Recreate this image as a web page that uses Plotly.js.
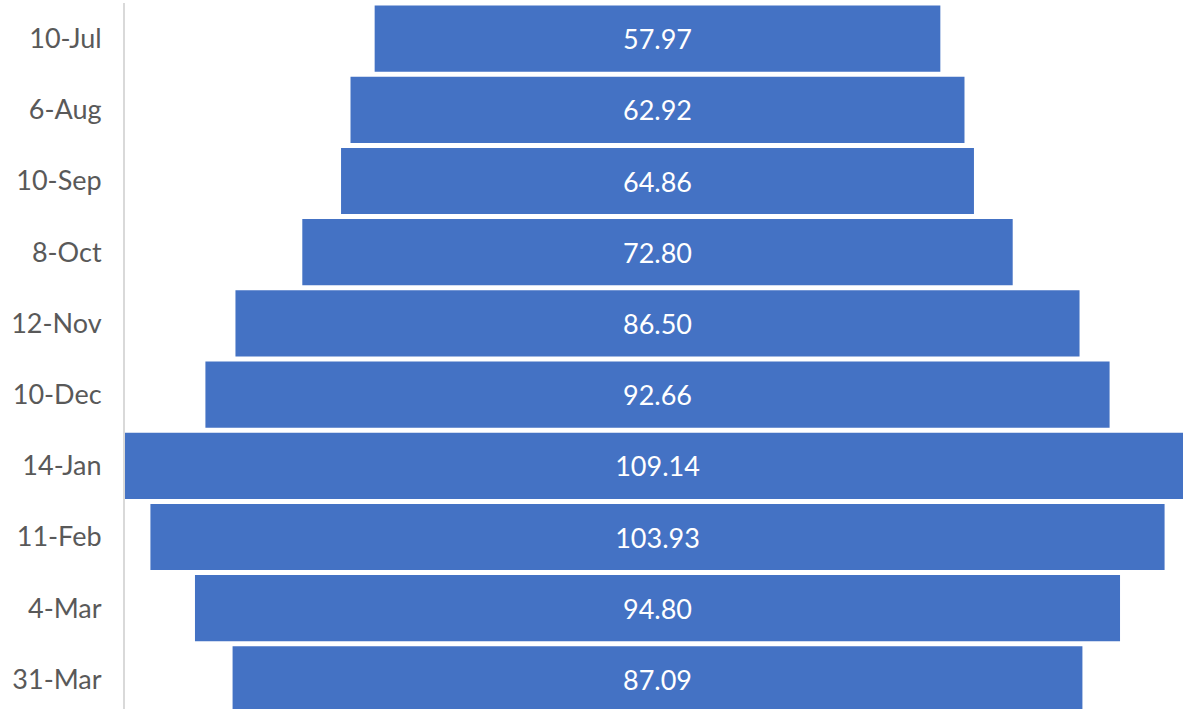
<!DOCTYPE html>
<html><head><meta charset="utf-8">
<script src="https://cdn.plot.ly/plotly-3.0.1.min.js"></script>
<style>html,body{margin:0;padding:0;overflow:hidden;background:#fff}</style>
</head><body><div id="chart"></div>
<script>
const categories = ["10-Jul","6-Aug","10-Sep","8-Oct","12-Nov","10-Dec","14-Jan","11-Feb","4-Mar","31-Mar"];
const values = [57.97,62.92,64.86,72.80,86.50,92.66,109.14,103.93,94.80,87.09];
const maxV = Math.max(...values);
Plotly.newPlot('chart', [{
  type: 'funnel',
  y: categories,
  x: values,
  orientation: 'h',
  texttemplate: '%{value:.2f}',
  textposition: 'inside',
  insidetextanchor: 'middle',
  textfont: {family: 'Lato, "Open Sans", sans-serif', size: 27, color: '#ffffff'},
  marker: {color: '#4472C4', line: {width: 0}},
  connector: {visible: false},
  hoverinfo: 'skip'
}], {
  width: 1190, height: 715,
  margin: {l: 125, r: 0, t: 3, b: 0, pad: 0},
  paper_bgcolor: '#ffffff', plot_bgcolor: '#ffffff',
  funnelgap: 0.07,
  showlegend: false,
  xaxis: {visible: false, range: [-maxV/2, maxV/2], fixedrange: true},
  yaxis: {showline: true, linecolor: '#d9d9d9', linewidth: 2, ticks: '', ticklabelstandoff: 16,
          tickfont: {family: 'Lato, "Open Sans", sans-serif', size: 27, color: '#595959'},
          showgrid: false, zeroline: false},
}, {displayModeBar: false, staticPlot: true});
</script></body></html>
